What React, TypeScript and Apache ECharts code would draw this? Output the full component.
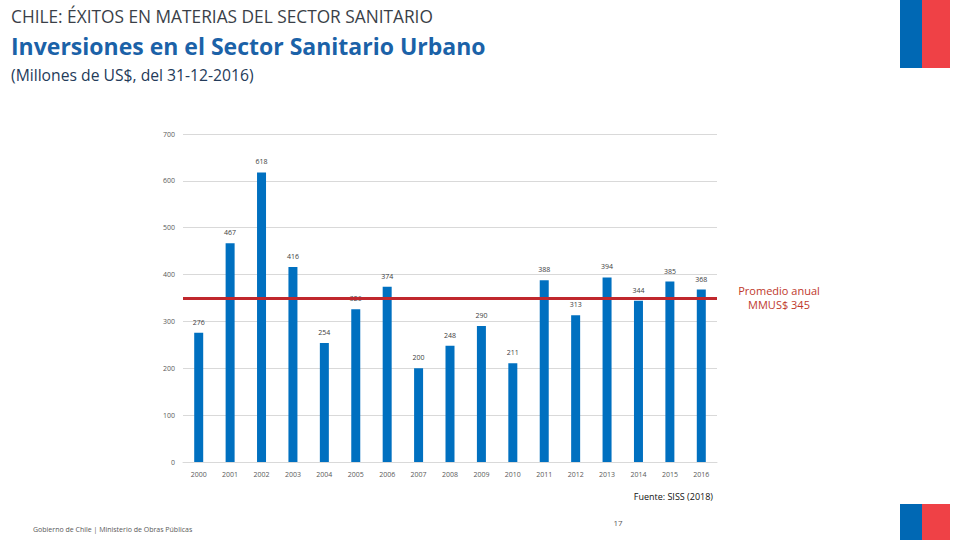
import React, { useEffect, useRef } from "react";
import * as echarts from "echarts";

const years = ["2000","2001","2002","2003","2004","2005","2006","2007","2008","2009","2010","2011","2012","2013","2014","2015","2016"];
const investments = [276, 467, 618, 416, 254, 326, 374, 200, 248, 290, 211, 388, 313, 394, 344, 385, 368];
const averageLine = 350;
const yTicks = { min: 0, max: 700, interval: 100 };

const FONT = "'Open Sans', 'Noto Sans', sans-serif";

export default function App() {
  const ref = useRef<HTMLDivElement>(null);
  useEffect(() => {
    if (!ref.current) return;
    const chart = echarts.init(ref.current, null, { renderer: "svg" });
    chart.setOption({
      animation: false,
      backgroundColor: "#ffffff",
      textStyle: { fontFamily: FONT },
      title: [
        { text: "CHILE: ÉXITOS EN MATERIAS DEL SECTOR SANITARIO", left: 6, top: 3, textStyle: { fontSize: 17.3, fontWeight: "normal", color: "#3a3f48", fontFamily: FONT } },
        { text: "Inversiones en el Sector Sanitario Urbano", left: 6, top: 29, textStyle: { fontSize: 23, fontWeight: "bold", color: "#1b62a8", fontFamily: FONT } },
        { text: "(Millones de US$, del 31-12-2016)", left: 6, top: 62, textStyle: { fontSize: 15.7, fontWeight: "normal", color: "#243b5a", fontFamily: FONT } },
      ],
      grid: { left: 183, right: 243, top: 134, bottom: 78, containLabel: false },
      xAxis: {
        type: "category",
        data: years,
        axisTick: { show: false },
        axisLine: { lineStyle: { color: "#d9d9d9" } },
        axisLabel: { fontSize: 7, color: "#595959", margin: 9 },
      },
      yAxis: {
        type: "value",
        min: yTicks.min,
        max: yTicks.max,
        interval: yTicks.interval,
        axisLine: { show: false },
        axisTick: { show: false },
        splitLine: { lineStyle: { color: "#d9d9d9" } },
        axisLabel: { fontSize: 7, color: "#595959", margin: 8 },
      },
      series: [
        {
          type: "bar",
          data: investments,
          barWidth: 9,
          itemStyle: { color: "#0070c0" },
          label: { show: true, position: "top", distance: 7, fontSize: 7, color: "#404040" },
          markLine: {
            symbol: "none",
            silent: true,
            label: { show: false },
            lineStyle: { color: "#c0282d", width: 3, type: "solid" },
            data: [{ yAxis: averageLine }],
          },
        },
      ],
      graphic: [
        { type: "rect", shape: { x: 900, y: 0, width: 22, height: 68 }, style: { fill: "#0068b4" } },
        { type: "rect", shape: { x: 922, y: 0, width: 28, height: 68 }, style: { fill: "#ef4146" } },
        { type: "rect", shape: { x: 900, y: 504, width: 22, height: 36 }, style: { fill: "#0068b4" } },
        { type: "rect", shape: { x: 922, y: 504, width: 28, height: 36 }, style: { fill: "#ef4146" } },
        { type: "text", x: 779, y: 290, style: { text: "Promedio anual", fontSize: 11, fill: "#c0392b", align: "center", verticalAlign: "middle", fontFamily: FONT } },
        { type: "text", x: 779, y: 304, style: { text: "MMUS$ 345", fontSize: 11, fill: "#c0392b", align: "center", verticalAlign: "middle", fontFamily: FONT } },
        { type: "text", x: 713, y: 496, style: { text: "Fuente: SISS (2018)", fontSize: 9, fill: "#111111", align: "right", verticalAlign: "middle", fontFamily: FONT } },
        { type: "text", x: 618, y: 522, style: { text: "17", fontSize: 8, fill: "#595959", align: "center", verticalAlign: "middle", fontFamily: FONT } },
        { type: "text", x: 33, y: 529, style: { text: "Gobierno de Chile | Ministerio de Obras Públicas", fontSize: 7, fill: "#595959", align: "left", verticalAlign: "middle", fontFamily: FONT } },
      ],
    });
    return () => chart.dispose();
  }, []);
  return <div ref={ref} style={{ position: "fixed", left: 0, top: 0, width: 960, height: 540 }} />;
}
